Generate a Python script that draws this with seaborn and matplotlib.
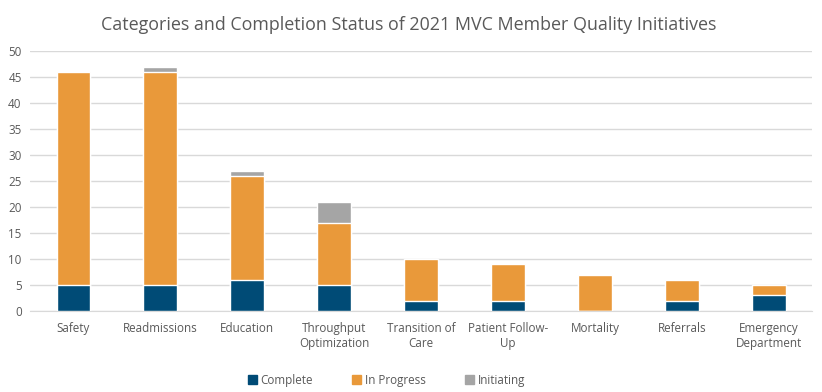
import numpy as np
import pandas as pd
import matplotlib
matplotlib.use("Agg")
import matplotlib.pyplot as plt
import seaborn as sns
from matplotlib.patches import Patch

categories = ["Safety", "Readmissions", "Education", "Throughput\nOptimization",
              "Transition of\nCare", "Patient Follow-\nUp", "Mortality",
              "Referrals", "Emergency\nDepartment"]
complete = [5, 5, 6, 5, 2, 2, 0, 2, 3]
in_progress = [41, 41, 20, 12, 8, 7, 7, 4, 2]
initiating = [0, 1, 1, 4, 0, 0, 0, 0, 0]

c_blue = "#004B76"
c_orange = "#E9993A"
c_grey = "#A5A5A5"

df = pd.DataFrame({"cat": categories, "Complete": complete,
                   "In Progress": in_progress, "Initiating": initiating})
df["lvl2"] = df["Complete"] + df["In Progress"]
df["lvl3"] = df["lvl2"] + df["Initiating"]

sns.set_style("white")
plt.rcParams["font.family"] = ["Open Sans", "DejaVu Sans"]

fig = plt.figure(figsize=(8.22, 3.92), dpi=100)
ax = fig.add_axes([0.0365, 0.2066, 0.9515, 0.6634])

w = 0.39
sns.barplot(data=df, x="cat", y="lvl3", color=c_grey, width=w, saturation=1, ax=ax, zorder=2)
sns.barplot(data=df, x="cat", y="lvl2", color=c_orange, width=w, saturation=1, ax=ax, zorder=3)
sns.barplot(data=df, x="cat", y="Complete", color=c_blue, width=w, saturation=1, ax=ax, zorder=4)

ax.set_ylim(0, 50)
ax.set_yticks(range(0, 51, 5))
ax.set_xlim(-0.5, len(categories) - 0.5)
ax.yaxis.grid(True, color="#D9D9D9", linewidth=1, zorder=0)
ax.set_axisbelow(True)
for s in ["top", "right", "left"]:
    ax.spines[s].set_visible(False)
ax.spines["bottom"].set_color("#D9D9D9")
ax.set_xlabel("")
ax.set_ylabel("")
ax.tick_params(axis="both", length=0, labelsize=8.4, labelcolor="#595959")
ax.tick_params(axis="y", pad=6)
ax.tick_params(axis="x", pad=8)

fig.suptitle("Categories and Completion Status of 2021 MVC Member Quality Initiatives",
             x=0.497, y=0.96, fontsize=12.9, color="#595959")

handles = [Patch(color=c_blue, label="Complete"),
           Patch(color=c_orange, label="In Progress"),
           Patch(color=c_grey, label="Initiating")]
fig.legend(handles=handles, loc="center", bbox_to_anchor=(0.47, 0.03), ncol=3,
           frameon=False, fontsize=8.4, labelcolor="#595959", handlelength=0.75,
           handleheight=0.75, handletextpad=0.3, columnspacing=3.4)

fig.savefig("out.png", dpi=100)
